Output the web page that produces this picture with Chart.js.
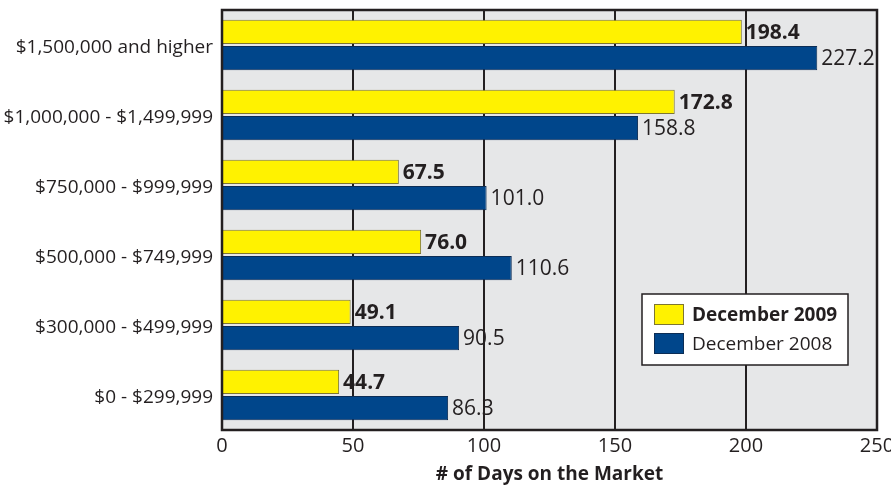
<!DOCTYPE html>
<html>
<head>
<meta charset="utf-8">
<script src="https://cdn.jsdelivr.net/npm/chart.js@4"></script>
<style>
  html, body { margin: 0; padding: 0; background: #ffffff; }
  #wrap { width: 891px; height: 489px; }
</style>
</head>
<body>
<div id="wrap"><canvas id="daysChart"></canvas></div>
<script>
// price ranges, top to bottom
const priceRanges = [
    "$1,500,000 and higher",
    "$1,000,000 - $1,499,999",
    "$750,000 - $999,999",
    "$500,000 - $749,999",
    "$300,000 - $499,999",
    "$0 - $299,999"
];
const dec2009 = [198.4, 172.8, 67.5, 76.0, 49.1, 44.7];
const dec2008 = [227.2, 158.8, 101.0, 110.6, 90.5, 86.3];
const xTicks = [0, 50, 100, 150, 200, 250];

const FONT = "'Open Sans', 'Noto Sans', sans-serif";
const INK = "#231f20";

// gray plot background + black frame
const plotFrame = {
    id: "plotFrame",
    beforeDatasetsDraw(chart) {
        const { ctx, chartArea: a } = chart;
        ctx.save();
        ctx.fillStyle = "#e6e7e8";
        ctx.fillRect(a.left, a.top, a.right - a.left, a.bottom - a.top);
        // vertical grid lines
        ctx.strokeStyle = INK;
        ctx.lineWidth = 2;
        const x = chart.scales.x;
        xTicks.forEach(v => {
            const px = Math.round(x.getPixelForValue(v));
            ctx.beginPath();
            ctx.moveTo(px, a.top);
            ctx.lineTo(px, a.bottom);
            ctx.stroke();
        });
        ctx.restore();
    },
    afterDatasetsDraw(chart) {
        const { ctx, chartArea: a } = chart;
        ctx.save();
        ctx.strokeStyle = INK;
        ctx.lineWidth = 2.5;
        ctx.strokeRect(a.left, a.top, a.right - a.left, a.bottom - a.top);
        ctx.restore();
    }
};

// numbers at end of bars
const valueLabels = {
    id: "valueLabels",
    afterDatasetsDraw(chart) {
        const { ctx } = chart;
        ctx.save();
        ctx.fillStyle = INK;
        ctx.textBaseline = "middle";
        ctx.textAlign = "left";
        chart.data.datasets.forEach((ds, i) => {
            const meta = chart.getDatasetMeta(i);
            ctx.font = (i === 0 ? "bold " : "") + "21px " + FONT;
            meta.data.forEach((bar, j) => {
                ctx.fillText(ds.data[j].toFixed(1), bar.x + 4, bar.y + 1);
            });
        });
        ctx.restore();
    }
};

// boxed legend inside the plot
const boxLegend = {
    id: "boxLegend",
    afterDraw(chart) {
        const { ctx } = chart;
        const bx = 642, by = 294, bw = 206, bh = 71;
        ctx.save();
        ctx.fillStyle = "#ffffff";
        ctx.fillRect(bx, by, bw, bh);
        ctx.strokeStyle = INK;
        ctx.lineWidth = 1.5;
        ctx.strokeRect(bx, by, bw, bh);
        chart.data.datasets.forEach((ds, i) => {
            const sy = by + 10 + i * 29;
            ctx.fillStyle = ds.backgroundColor;
            ctx.fillRect(bx + 12, sy, 30, 21);
            ctx.strokeStyle = ds.borderColor;
            ctx.lineWidth = 1;
            ctx.strokeRect(bx + 12.5, sy + 0.5, 29, 20);
            ctx.fillStyle = INK;
            ctx.font = (i === 0 ? "bold " : "") + "19px " + FONT;
            ctx.textBaseline = "middle";
            ctx.fillText(ds.label, bx + 50, sy + 12);
        });
        ctx.restore();
    }
};

new Chart(document.getElementById("daysChart"), {
    type: "bar",
    data: {
        labels: priceRanges,
        datasets: [
            {
                label: "December 2009",
                data: dec2009,
                backgroundColor: "#fff200",
                borderColor: "#7d7632",
                borderWidth: 1,
                borderSkipped: false
            },
            {
                label: "December 2008",
                data: dec2008,
                backgroundColor: "#00468b",
                borderColor: "#0c2d55",
                borderWidth: 1,
                borderSkipped: false
            }
        ]
    },
    options: {
        indexAxis: "y",
        responsive: true,
        maintainAspectRatio: false,
        animation: false,
        layout: { padding: { top: 10, right: 14, left: 0, bottom: 0 } },
        datasets: { bar: { categoryPercentage: 0.75, barPercentage: 0.92 } },
        plugins: {
            legend: { display: false },
            tooltip: { enabled: false }
        },
        scales: {
            x: {
                min: 0,
                max: 250,
                afterFit(scale) {
                    scale.height = 59;
                    scale.paddingLeft = 0;
                    scale.paddingRight = 0;
                },
                afterBuildTicks(scale) { scale.ticks = xTicks.map(v => ({ value: v })); },
                grid: { display: false, drawTicks: false },
                border: { display: false },
                ticks: {
                    color: INK,
                    font: { family: FONT, size: 20 },
                    padding: 4
                },
                title: {
                    display: true,
                    text: "# of Days on the Market",
                    color: INK,
                    font: { family: FONT, size: 19, weight: "bold" },
                    padding: { top: 0, bottom: 3 }
                }
            },
            y: {
                afterFit(scale) {
                    scale.width = 222;
                    scale.paddingTop = 0;
                    scale.paddingBottom = 0;
                },
                grid: { display: false, drawTicks: false },
                border: { display: false },
                ticks: {
                    color: INK,
                    font: { family: FONT, size: 19 },
                    padding: 9,
                    labelOffset: 3
                }
            }
        }
    },
    plugins: [plotFrame, valueLabels, boxLegend]
});
</script>
</body>
</html>
